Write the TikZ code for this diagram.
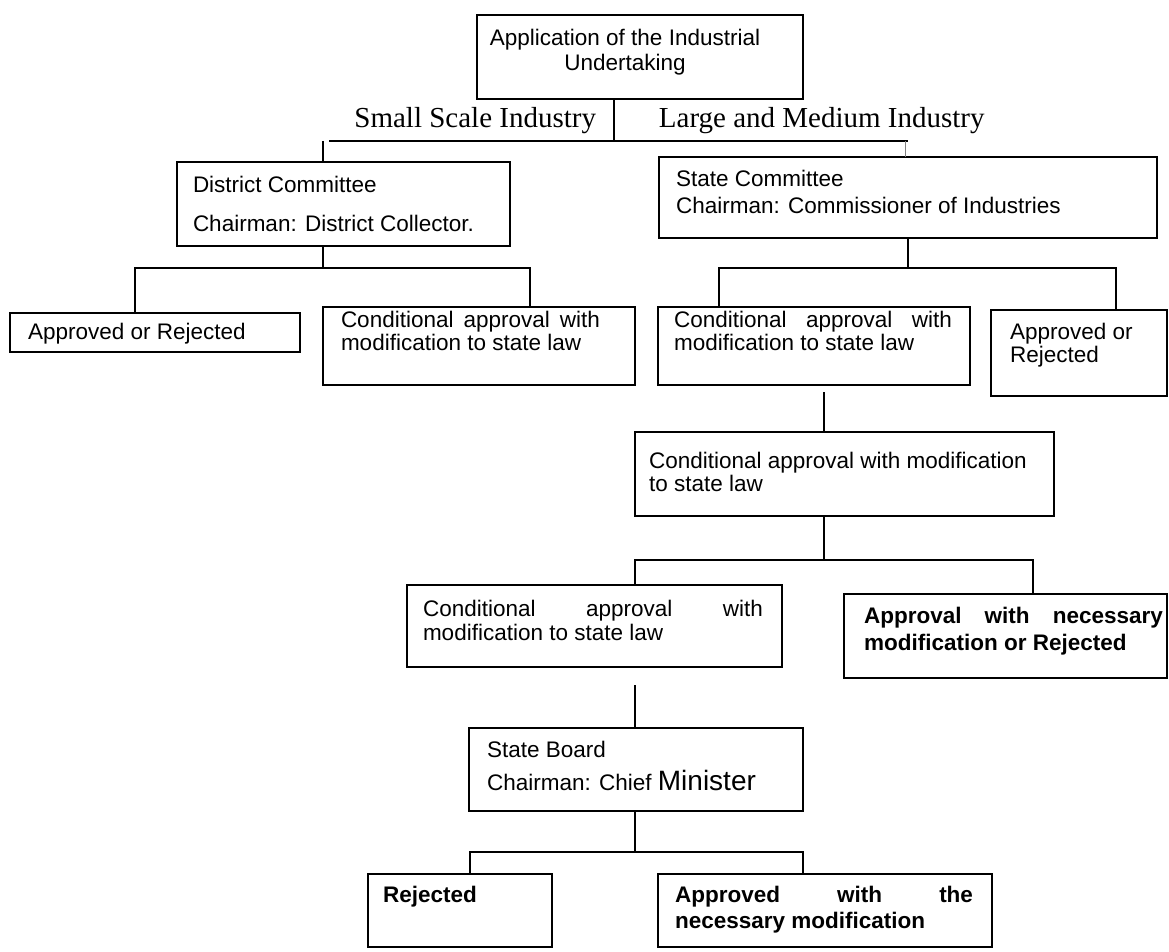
\documentclass[tikz,border=0pt]{standalone}
\usepackage{fontspec}
\setmainfont{Liberation Sans}
\newfontfamily\tnrfont{Liberation Serif}
\newcommand\myfs{\fontsize{22.5}{25}\selectfont}
\newcommand\myserif{\tnrfont\fontsize{29}{32}\selectfont}
\begin{document}
\begin{tikzpicture}[x=1pt,y=-1pt,line width=1.9pt,line join=miter,
  box/.style={draw,rectangle,inner sep=0pt,outer sep=0pt,anchor=north west},
  txt/.style={anchor=north west,inner sep=0pt,outer sep=0pt,align=left,font=\myfs},
  btxt/.style={txt,font=\myfs\bfseries},
  lbl/.style={inner sep=0pt,font=\myserif}]
\useasboundingbox (0,0) rectangle (1169,952);

% boxes
\node[box,minimum width=326pt,minimum height=84pt] (app) at (477,15) {};
\node[box,minimum width=333pt,minimum height=84pt] (dc) at (177,162) {};
\node[box,minimum width=498pt,minimum height=81pt] (sc) at (659,157) {};
\node[box,minimum width=290pt,minimum height=39pt] (ar1) at (10,313) {};
\node[box,minimum width=312pt,minimum height=78pt] (dcc) at (323,307) {};
\node[box,minimum width=312pt,minimum height=78pt] (scc) at (658,307) {};
\node[box,minimum width=176pt,minimum height=86pt] (ar2) at (991,310) {};
\node[box,minimum width=419pt,minimum height=84pt] (mid) at (635,432) {};
\node[box,minimum width=375pt,minimum height=82pt] (l4) at (407,585) {};
\node[box,minimum width=323pt,minimum height=84pt] (b4) at (844,594) {};
\node[box,minimum width=334pt,minimum height=83pt] (sb) at (469,728) {};
\node[box,minimum width=184pt,minimum height=73pt] (rej) at (368,874) {};
\node[box,minimum width=334pt,minimum height=73pt] (awn) at (658,874) {};

% texts
\node[txt,align=center,anchor=north] (tapp) at (625,28.5) {\strut Application of the Industrial\\ Undertaking};
\node[lbl,anchor=base east] (tsmall) at (597,128) {Small Scale Industry};
\node[lbl,anchor=base west] (tlarge) at (658,128) {Large and Medium Industry};
\node[txt] (tdc) at (193,174.5) {\strut District Committee\\[14pt] Chairman: District Collector.};
\node[txt] (tsc) at (676,168.5) {\strut State Committee\\[3pt] Chairman: Commissioner of Industries};
\node[txt] (tar1) at (28,322) {\strut Approved or Rejected};
\node[txt] (tdcc) at (341,309.5) {\strut\makebox[259pt][s]{Conditional approval with}\\[-2pt] modification to state law};
\node[txt] (tscc) at (674,309.5) {\strut\makebox[278pt][s]{Conditional approval with}\\[-2pt] modification to state law};
\node[txt] (tar2) at (1010,321.5) {\strut Approved or\\[-2pt] Rejected};
\node[txt] (tmid) at (649,450.5) {\strut Conditional approval with modification\\[-2pt] to state law};
\node[txt] (tl4) at (423,598.5) {\strut\makebox[340pt][s]{Conditional approval with}\\[-1pt] modification to state law};
\node[btxt] (tb4) at (864,605.5) {\strut\makebox[299pt][s]{Approval with necessary}\\[2pt] modification or Rejected};
\node[txt] (tsb) at (487,739.5) {\strut State Board\\[5pt] Chairman: Chief {\fontsize{28}{30}\selectfont Minister}};
\node[btxt] (trej) at (383,884.5) {\strut Rejected};
\node[btxt] (tawn) at (675,884.5) {\strut\makebox[298pt][s]{Approved with the}\\[1pt] necessary modification};

% junction coordinates
\coordinate (j0) at (614,141);
\coordinate (hl) at (329,141);
\coordinate (hr) at (908,141);
\coordinate (vl) at (323,141);
\coordinate (tk) at (905,141);
\coordinate (b1) at (323,268);
\coordinate (b1l) at (135,268);
\coordinate (b1r) at (530,268);
\coordinate (b2) at (908,268);
\coordinate (b2l) at (719,268);
\coordinate (b2r) at (1116,268);
\coordinate (g1) at (824,392);
\coordinate (b3) at (824,560);
\coordinate (b3l) at (635,560);
\coordinate (b3r) at (1033,560);
\coordinate (g2) at (635,685);
\coordinate (b5) at (635,852);
\coordinate (b5l) at (470,852);
\coordinate (b5r) at (803,852);

% connectors
\draw (app.south -| j0) -- (j0);
\draw (hl) -- (hr);
\draw (vl) -- (vl |- dc.north);
\draw[gray,line width=0.8pt] (tk) -- (tk |- sc.north);
\draw (dc.south -| b1) -- (b1);
\draw (ar1.north -| b1l) -- (b1l) -- (b1r) -- (b1r |- dcc.north);
\draw (sc.south -| b2) -- (b2);
\draw (scc.north -| b2l) -- (b2l) -- (b2r) -- (b2r |- ar2.north);
\draw (g1) -- (g1 |- mid.north);
\draw (mid.south -| b3) -- (b3);
\draw (l4.north -| b3l) -- (b3l) -- (b3r) -- (b3r |- b4.north);
\draw (g2) -- (g2 |- sb.north);
\draw (sb.south -| b5) -- (b5);
\draw (rej.north -| b5l) -- (b5l) -- (b5r) -- (b5r |- awn.north);
\end{tikzpicture}
\end{document}
